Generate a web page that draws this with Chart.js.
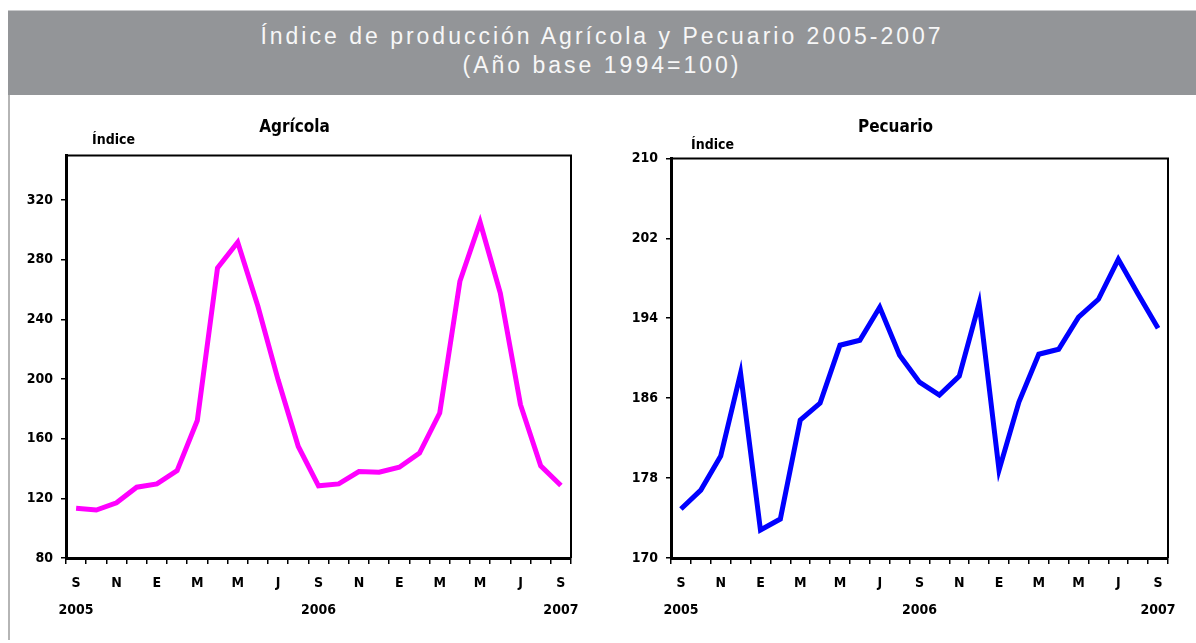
<!DOCTYPE html>
<html>
<head>
<meta charset="utf-8">
<script src="https://cdn.jsdelivr.net/npm/chart.js@4.4.0/dist/chart.umd.min.js"></script>
<style>
  body { margin: 0; background: #fff; width: 1196px; height: 643px; position: relative; overflow: hidden; }
  .banda { position: absolute; left: 8px; top: 10px; width: 1188px; height: 85px; background: #939598;
           border-top: 1px solid #c8c9cb; box-sizing: border-box; color: #f7f7f7; text-align: center;
           font-family: 'Liberation Sans', Arial, sans-serif; font-size: 23px; letter-spacing: 3px; line-height: 29px; padding-top: 11px; }
  .borde { position: absolute; left: 8px; top: 95px; width: 2px; height: 545px; background: #b5b5b5; }
  .grafica { position: absolute; top: 105px; height: 530px; }
</style>
</head>
<body>
<div class="banda">Índice de producción Agrícola y Pecuario 2005-2007<br>(Año base 1994=100)</div>
<div class="borde"></div>
<div class="grafica" style="left:18px;width:600px"><canvas id="agricola"></canvas></div>
<div class="grafica" style="left:623px;width:574px"><canvas id="pecuario"></canvas></div>
<script>
// meses de septiembre 2005 a septiembre 2007
const meses = ['S','O','N','D','E','F','M','A','M','J','J','A','S','O','N','D','E','F','M','A','M','J','J','A','S'];
const aniosPos = [0, 12, 24];
const aniosTxt = ['2005', '2006', '2007'];

const agricola = [113.4, 112.2, 117.0, 127.5, 129.7, 138.6, 172.2, 274.5, 291.8, 248.8, 199.5, 154.8, 128.4,
                  129.7, 138.0, 137.5, 140.9, 150.3, 177.2, 265.6, 305.2, 257.7, 182.8, 141.8, 128.6];
const pecuario = [174.9, 176.8, 180.2, 188.5, 172.8, 173.9, 183.8, 185.5, 191.3, 191.8, 195.1, 190.3, 187.6,
                  186.3, 188.2, 195.5, 178.8, 185.6, 190.4, 190.9, 194.1, 195.9, 199.9, 196.4, 193.0];

const FUENTE = "'Liberation Sans Narrow', 'DejaVu Sans Condensed', Arial, sans-serif";

// marco negro alrededor del area de trazado y la etiqueta "Índice"
const marco = {
  id: 'marco',
  afterDatasetsDraw(chart, args, opts) {
    const { ctx, chartArea: a } = chart;
    ctx.save();
    ctx.strokeStyle = '#000';
    ctx.lineWidth = 2;
    ctx.beginPath();
    ctx.moveTo(a.left, a.top);
    ctx.lineTo(a.right, a.top);
    ctx.lineTo(a.right, a.bottom);
    ctx.stroke();
    ctx.fillStyle = '#000';
    ctx.font = 'bold 14px ' + FUENTE;
    ctx.textBaseline = 'middle';
    ctx.fillText('Índice', a.left + opts.dx, a.top - opts.dy);
    ctx.restore();
  }
};

function etiqueta(i) {
  if (i % 2) return '';
  const k = aniosPos.indexOf(i);
  return k >= 0 ? [meses[i], aniosTxt[k]] : meses[i];
}

function crear(id, titulo, datos, color, yMin, yMax, paso, padDer, padTitulo, dx, dy) {
  return new Chart(document.getElementById(id), {
    type: 'line',
    data: {
      labels: meses,
      datasets: [{
        data: datos,
        borderColor: color,
        borderWidth: 5,
        pointRadius: 0,
        tension: 0,
        fill: false
      }]
    },
    options: {
      responsive: true,
      maintainAspectRatio: false,
      animation: false,
      layout: { padding: { right: padDer } },
      scales: {
        x: {
          offset: true,
          grid: { offset: true, drawOnChartArea: false, tickLength: 6, color: '#000', lineWidth: 1.5 },
          border: { color: '#000', width: 3 },
          ticks: {
            autoSkip: false, maxRotation: 0, padding: 6, color: '#000',
            font: { family: FUENTE, size: 14, weight: 'bold', lineHeight: 1.93 },
            callback: (v, i) => etiqueta(i)
          },
          afterFit: s => { s.height = 77; }
        },
        y: {
          min: yMin,
          max: yMax,
          grid: { drawOnChartArea: false, tickLength: 5, color: '#000', lineWidth: 1.5 },
          border: { color: '#000', width: 3 },
          ticks: {
            stepSize: paso, includeBounds: false, padding: 8, color: '#000',
            font: { family: FUENTE, size: 14, weight: 'bold' }
          },
          afterFit: s => { s.width = 48; }
        }
      },
      plugins: {
        legend: { display: false },
        tooltip: { enabled: false },
        title: {
          display: true,
          text: titulo,
          color: '#000',
          font: { family: FUENTE, size: 17, weight: 'bold', lineHeight: 1.2 },
          padding: { top: 12, bottom: padTitulo }
        },
        marco: { dx: dx, dy: dy }
      }
    },
    plugins: [marco]
  });
}

crear('agricola', 'Agrícola', agricola, '#ff00ff', 80, 350, 40, 47, 18, 26, 15);
crear('pecuario', 'Pecuario', pecuario, '#0000ff', 170, 210, 8, 29, 21, 20, 13);
</script>
</body>
</html>
